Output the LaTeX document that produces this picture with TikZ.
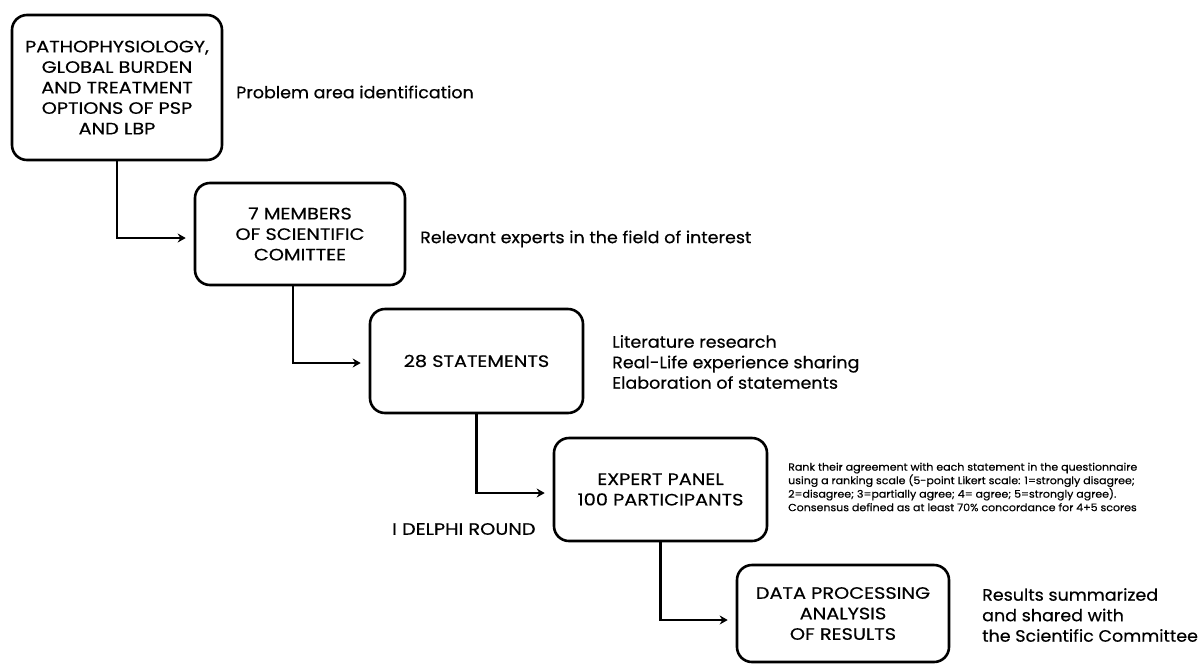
\documentclass[tikz,border=0pt]{standalone}
\usepackage{fontspec}
\setmainfont{Poppins}
\newfontfamily\capsfont{Poppins}[FakeStretch=1.17, FakeBold=0.5]
\newfontfamily\notefont{Poppins}[FakeStretch=1.06, FakeBold=0.5]
\usetikzlibrary{arrows.meta,positioning}
\newcommand{\bigtxt}{\capsfont\fontsize{16.5}{20.5}\selectfont}
\newcommand{\notetxt}{\notefont\fontsize{16.5}{20.5}\selectfont}
\newcommand{\smalltxt}{\notefont\fontsize{10.4}{13.5}\selectfont}

\begin{document}
\begin{tikzpicture}[x=1pt,y=-1pt,
    stage/.style={draw, line width=2.6pt, rounded corners=15pt, align=center,
      font=\bigtxt, inner sep=0pt},
    note/.style={anchor=west, align=left, font=\notetxt, inner sep=0pt},
    flow/.style={line width=2.2pt, -{Stealth[length=8pt,width=9pt]}, shorten >=8pt}]
  \useasboundingbox (0,0) rectangle (1203,665);
  % the five stages
  \node[stage, minimum width=210pt, minimum height=145pt] (prob) at (117,87.5)
    {PATHOPHYSIOLOGY,\\GLOBAL BURDEN\\AND TREATMENT\\OPTIONS OF PSP\\AND LBP};
  \node[stage, minimum width=210pt, minimum height=102pt] (comm) at (300,234)
    {7 MEMBERS\\OF SCIENTIFIC\\COMITTEE};
  \node[stage, minimum width=213pt, minimum height=104pt] (stmt) at (476.5,361)
    {28 STATEMENTS};
  \node[stage, minimum width=213pt, minimum height=103pt] (panel) at (660.5,489.5)
    {EXPERT PANEL\\100 PARTICIPANTS};
  \node[stage, minimum width=212pt, minimum height=97pt] (data) at (843,613.5)
    {DATA PROCESSING\\ANALYSIS\\OF RESULTS};
  % side notes
  \node[note] (n1) at (236,92) {Problem area identification};
  \node[note] (n2) at (420,239) {Relevant experts in the field of interest};
  \node[note] (n3) at (612,362) {Literature research\\Real-Life experience sharing\\Elaboration of statements};
  \node[note, font=\smalltxt] (n4) at (788,487)
    {Rank their agreement with each statement in the questionnaire\\
     using a ranking scale (5-point Likert scale: 1=strongly disagree;\\
     2=disagree; 3=partially agree; 4= agree; 5=strongly agree).\\
     Consensus defined as at least 70\% concordance for 4+5 scores};
  \node[note, font=\bigtxt] (round) at (392,529) {I DELPHI ROUND};
  \node[note] (n5) at (982,615) {Results summarized\\and shared with\\the Scientific Committee};
  % connectors
  \draw[flow] (prob.south) |- ([yshift=-4pt]comm.west);
  \draw[flow] ([xshift=-7pt]comm.south) |- ([yshift=-2pt]stmt.west);
  \draw[flow] (stmt.south) |- ([yshift=-3.5pt]panel.west);
  \draw[flow] (panel.south) |- ([yshift=-6.5pt]data.west);
\end{tikzpicture}
\end{document}
